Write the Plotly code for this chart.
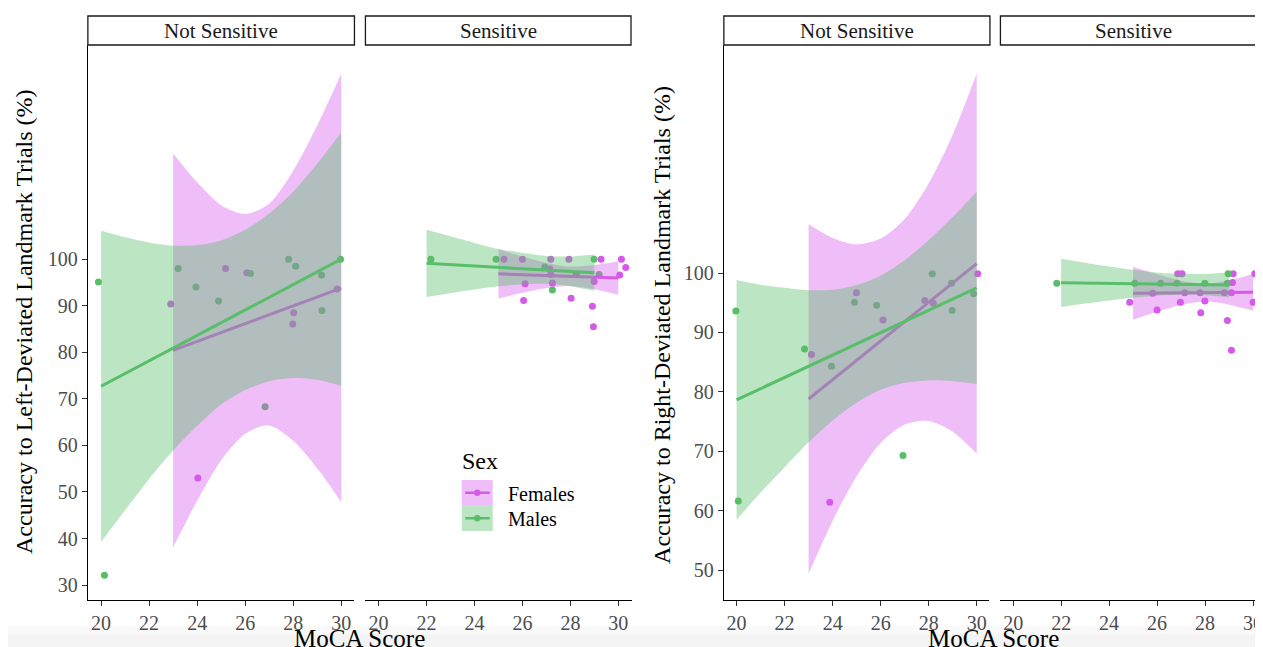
import plotly.graph_objects as go

FONT = "Liberation Serif"
FEMALE = "#D65AEA"
MALE = "#58BE69"
FEMALE_FILL = "rgba(214,90,234,0.4)"
MALE_FILL = "rgba(88,190,105,0.4)"

# ---------------- data ----------------
X_TICKS = [20, 22, 24, 26, 28, 30]
Y_TICKS_LEFT = [30, 40, 50, 60, 70, 80, 90, 100]
Y_TICKS_RIGHT = [50, 60, 70, 80, 90, 100]
FACETS = ["Not Sensitive", "Sensitive"]
SEXES = ["Females", "Males"]

# Left chart, Not Sensitive
L_NS_F_x = [22.90, 24.03, 25.18, 26.07, 27.98, 28.02, 29.83]
L_NS_F_y = [90.4, 53.0, 98.0, 97.1, 86.1, 88.5, 93.6]
L_NS_M_x = [19.89, 20.14, 23.21, 23.95, 24.89, 26.22, 26.83, 27.81, 28.10, 29.18, 29.20, 29.97]
L_NS_M_y = [95.1, 32.1, 98.0, 94.0, 91.0, 96.9, 68.3, 100.0, 98.5, 96.6, 89.0, 100.0]
FIT_L_NS_F_x = [23, 30]
FIT_L_NS_F_y = [80.4, 93.8]
FIT_L_NS_M_x = [20, 30]
FIT_L_NS_M_y = [72.7, 100.0]
BAND_L_NS_F_x = [23, 24, 25, 26, 27, 28, 29, 30]
BAND_L_NS_F_hi = [122.7, 116.5, 111.6, 109.7, 111.9, 119.0, 128.7, 139.8]
BAND_L_NS_F_lo = [38.1, 48.1, 56.8, 62.5, 64.3, 61.0, 55.1, 47.8]
BAND_L_NS_M_x = [20, 21, 22, 23, 24, 25, 26, 27, 28, 29, 30]
BAND_L_NS_M_hi = [106.1, 104.7, 103.6, 102.9, 103.0, 104.0, 106.3, 109.8, 114.5, 120.5, 127.2]
BAND_L_NS_M_lo = [39.3, 46.1, 52.8, 58.9, 64.2, 68.8, 71.9, 73.8, 74.5, 74.1, 72.8]

# Left chart, Sensitive
L_S_F_x = [25.23, 26.00, 27.18, 27.94, 29.28, 30.13, 30.31, 30.06, 27.14, 27.18,
           28.24, 26.11, 27.25, 28.99, 26.05, 28.03, 28.92, 28.96]
L_S_F_y = [100.0, 100.0, 100.0, 100.0, 100.0, 100.0, 98.2, 96.6, 97.9, 96.7,
           96.7, 94.7, 94.9, 95.2, 91.1, 91.6, 89.9, 85.5]
L_S_M_x = [22.18, 24.90, 26.93, 27.25, 28.99, 29.20]
L_S_M_y = [100.0, 100.0, 98.3, 93.4, 100.0, 96.7]
FIT_L_S_F_x = [25, 30]
FIT_L_S_F_y = [96.85, 95.96]
FIT_L_S_M_x = [22, 29]
FIT_L_S_M_y = [99.1, 97.1]
BAND_L_S_F_x = [25, 26, 27, 28, 29, 30]
BAND_L_S_F_hi = [102.15, 100.57, 99.2, 98.42, 98.74, 99.56]
BAND_L_S_F_lo = [91.55, 92.77, 93.8, 94.22, 93.54, 92.36]
BAND_L_S_M_x = [22, 23, 24, 25, 26, 27, 28, 29]
BAND_L_S_M_hi = [106.3, 104.9, 103.5, 102.2, 101.4, 100.7, 100.6, 101.0]
BAND_L_S_M_lo = [91.9, 92.7, 93.5, 94.2, 94.6, 94.7, 94.2, 93.2]

# Right chart, Not Sensitive
R_NS_F_x = [23.12, 23.88, 24.99, 26.10, 27.84, 28.19, 30.04]
R_NS_F_y = [86.3, 61.4, 96.7, 92.1, 95.4, 94.9, 99.9]
R_NS_M_x = [19.97, 20.07, 22.83, 23.95, 24.91, 25.83, 26.93, 28.15, 28.95, 28.98, 29.87]
R_NS_M_y = [93.6, 61.6, 87.2, 84.3, 95.1, 94.6, 69.3, 99.9, 98.3, 93.7, 96.5]
FIT_R_NS_F_x = [23, 30]
FIT_R_NS_F_y = [78.8, 101.6]
FIT_R_NS_M_x = [20, 30]
FIT_R_NS_M_y = [78.65, 97.5]
BAND_R_NS_F_x = [23, 24, 25, 26, 27, 28, 29, 30]
BAND_R_NS_F_hi = [108.2, 105.9, 104.8, 105.8, 109.1, 115.1, 123.3, 133.6]
BAND_R_NS_F_lo = [49.4, 58.3, 65.8, 71.4, 74.5, 75.1, 73.3, 69.6]
BAND_R_NS_M_x = [20, 21, 22, 23, 24, 25, 26, 27, 28, 29, 30]
BAND_R_NS_M_hi = [98.85, 98.04, 97.52, 97.11, 97.19, 97.98, 99.56, 102.15, 105.53, 109.42, 113.7]
BAND_R_NS_M_lo = [58.45, 63.04, 67.32, 71.51, 75.19, 78.18, 80.36, 81.55, 81.93, 81.82, 81.3]

# Right chart, Sensitive
R_S_F_x = [24.86, 25.82, 26.00, 26.86, 27.04, 26.97, 27.15, 27.79, 27.99, 27.82,
           28.80, 29.17, 29.14, 29.10, 28.93, 29.10, 30.07, 30.00, 30.12]
R_S_F_y = [95.1, 96.6, 93.8, 99.9, 99.9, 95.1, 96.7, 96.7, 95.3, 93.3,
           96.7, 99.9, 98.4, 96.7, 92.0, 87.0, 99.9, 95.1, 95.1]
R_S_M_x = [21.82, 25.07, 26.15, 26.83, 27.99, 28.93, 28.96]
R_S_M_y = [98.3, 98.3, 98.3, 98.3, 98.3, 98.3, 99.9]
FIT_R_S_F_x = [25, 30]
FIT_R_S_F_y = [96.6, 96.75]
FIT_R_S_M_x = [22, 29]
FIT_R_S_M_y = [98.35, 98.0]
BAND_R_S_F_x = [25, 26, 27, 28, 29, 30]
BAND_R_S_F_hi = [101.05, 99.78, 98.71, 98.19, 98.77, 99.85]
BAND_R_S_F_lo = [92.15, 93.48, 94.61, 95.19, 94.67, 93.65]
BAND_R_S_M_x = [22, 23, 24, 25, 26, 27, 28, 29]
BAND_R_S_M_hi = [102.4, 101.74, 101.11, 100.55, 100.1, 99.86, 99.85, 100.09]
BAND_R_S_M_lo = [94.3, 94.86, 95.39, 95.85, 96.2, 96.34, 96.25, 95.91]

Y_TITLE_LEFT = "Accuracy to Left-Deviated Landmark Trials (%)"
Y_TITLE_RIGHT = "Accuracy to Right-Deviated Landmark Trials (%)"
X_TITLE = "MoCA Score"
LEGEND_TITLE = "Sex"

# ---------------- layout helpers ----------------
# the page body has an 8px margin, so the figure is placed at (8, 8)
OFF = 8
W, H = 1263 - OFF, 647 - OFF


def pxx(p):
    return (p - OFF) / W


def pxy(p):
    return 1 - (p - OFF) / H


panels = [
    dict(xa="x", ya="y",
         pts=(L_NS_F_x, L_NS_F_y, L_NS_M_x, L_NS_M_y),
         fit=(FIT_L_NS_F_x, FIT_L_NS_F_y, FIT_L_NS_M_x, FIT_L_NS_M_y),
         band=(BAND_L_NS_F_x, BAND_L_NS_F_lo, BAND_L_NS_F_hi,
               BAND_L_NS_M_x, BAND_L_NS_M_lo, BAND_L_NS_M_hi)),
    dict(xa="x2", ya="y2",
         pts=(L_S_F_x, L_S_F_y, L_S_M_x, L_S_M_y),
         fit=(FIT_L_S_F_x, FIT_L_S_F_y, FIT_L_S_M_x, FIT_L_S_M_y),
         band=(BAND_L_S_F_x, BAND_L_S_F_lo, BAND_L_S_F_hi,
               BAND_L_S_M_x, BAND_L_S_M_lo, BAND_L_S_M_hi)),
    dict(xa="x3", ya="y3",
         pts=(R_NS_F_x, R_NS_F_y, R_NS_M_x, R_NS_M_y),
         fit=(FIT_R_NS_F_x, FIT_R_NS_F_y, FIT_R_NS_M_x, FIT_R_NS_M_y),
         band=(BAND_R_NS_F_x, BAND_R_NS_F_lo, BAND_R_NS_F_hi,
               BAND_R_NS_M_x, BAND_R_NS_M_lo, BAND_R_NS_M_hi)),
    dict(xa="x4", ya="y4",
         pts=(R_S_F_x, R_S_F_y, R_S_M_x, R_S_M_y),
         fit=(FIT_R_S_F_x, FIT_R_S_F_y, FIT_R_S_M_x, FIT_R_S_M_y),
         band=(BAND_R_S_F_x, BAND_R_S_F_lo, BAND_R_S_F_hi,
               BAND_R_S_M_x, BAND_R_S_M_lo, BAND_R_S_M_hi)),
]

fig = go.Figure()

for p in panels:
    xa, ya = p["xa"], p["ya"]
    fx, fy, mx, my = p["pts"]
    # points first (ribbons are drawn over them, as in ggplot)
    fig.add_trace(go.Scatter(x=fx, y=fy, mode="markers", xaxis=xa, yaxis=ya,
                             marker=dict(color=FEMALE, size=7), showlegend=False,
                             hoverinfo="skip"))
    fig.add_trace(go.Scatter(x=mx, y=my, mode="markers", xaxis=xa, yaxis=ya,
                             marker=dict(color=MALE, size=7), showlegend=False,
                             hoverinfo="skip"))
    bfx, bflo, bfhi, bmx, bmlo, bmhi = p["band"]
    lfx, lfy, lmx, lmy = p["fit"]
    for bx, blo, bhi, fill, lx, ly, col in (
        (bfx, bflo, bfhi, FEMALE_FILL, lfx, lfy, FEMALE),
        (bmx, bmlo, bmhi, MALE_FILL, lmx, lmy, MALE),
    ):
        fig.add_trace(go.Scatter(x=bx, y=blo, mode="lines", xaxis=xa, yaxis=ya,
                                 line=dict(width=0, shape="spline", smoothing=0.8),
                                 showlegend=False, hoverinfo="skip"))
        fig.add_trace(go.Scatter(x=bx, y=bhi, mode="lines", xaxis=xa, yaxis=ya,
                                 line=dict(width=0, shape="spline", smoothing=0.8),
                                 fill="tonexty", fillcolor=fill,
                                 showlegend=False, hoverinfo="skip"))
        fig.add_trace(go.Scatter(x=lx, y=ly, mode="lines", xaxis=xa, yaxis=ya,
                                 line=dict(color=col, width=3),
                                 showlegend=False, hoverinfo="skip"))

# ---------------- axes ----------------
ydom = [pxy(600), pxy(45)]
tickfont = dict(family=FONT, size=20, color="#4D4D4D")
common_x = dict(tickvals=X_TICKS, showline=True, linecolor="black", linewidth=1.2,
                ticks="outside", ticklen=5, tickcolor="#333333", tickwidth=1,
                tickfont=tickfont, showgrid=False, zeroline=False, fixedrange=True,
                ticklabeloverflow="allow")
common_y_vis = dict(showline=True, linecolor="black", linewidth=1.2,
                    ticks="outside", ticklen=5, tickcolor="#333333", tickwidth=1,
                    tickfont=tickfont, showgrid=False, zeroline=False, fixedrange=True)
common_y_hid = dict(showline=False, showticklabels=False, ticks="", showgrid=False,
                    zeroline=False, fixedrange=True)

LEFT_YR = [26.8, 146.0]
RIGHT_YR = [44.95, 138.4]

fig.update_layout(
    xaxis=dict(domain=[pxx(88), pxx(355)], range=[19.45, 30.55], anchor="y", **common_x),
    xaxis2=dict(domain=[pxx(366), pxx(632.5)], range=[19.45, 30.55], anchor="y2", **common_x),
    xaxis3=dict(domain=[pxx(725), pxx(991)], range=[19.47, 30.53], anchor="y3", **common_x),
    xaxis4=dict(domain=[pxx(1002), 1.0], range=[19.47, 30.33], anchor="y4", **common_x),
    yaxis=dict(domain=ydom, range=LEFT_YR, anchor="x", tickvals=Y_TICKS_LEFT, **common_y_vis),
    yaxis2=dict(domain=ydom, range=LEFT_YR, anchor="x2", **common_y_hid),
    yaxis3=dict(domain=ydom, range=RIGHT_YR, anchor="x3", tickvals=Y_TICKS_RIGHT, **common_y_vis),
    yaxis4=dict(domain=ydom, range=RIGHT_YR, anchor="x4", **common_y_hid),
)

# ---------------- strips, titles, legend ----------------
shapes = []
annotations = []

# subtle grey band at the very bottom of the screenshot
shapes.append(dict(type="rect", xref="paper", yref="paper", x0=0, x1=1, y0=0, y1=pxy(626),
                   fillcolor="rgba(0,0,0,0.02)", line=dict(width=0), layer="below"))
shapes.append(dict(type="rect", xref="paper", yref="paper", x0=0, x1=1, y0=0, y1=pxy(634),
                   fillcolor="rgba(0,0,0,0.025)", line=dict(width=0), layer="below"))

strips = [(88, 355, FACETS[0], 221), (366, 632, FACETS[1], 499),
          (725, 991.5, FACETS[0], 858), (1002, 1272, FACETS[1], 1135)]
for x0, x1, label, cx in strips:
    shapes.append(dict(type="rect", xref="paper", yref="paper",
                       x0=pxx(x0), x1=pxx(x1), y0=pxy(45), y1=pxy(16),
                       line=dict(color="#1A1A1A", width=1.3), fillcolor="white"))
    annotations.append(dict(text=label, x=pxx(cx), y=pxy(31), xref="paper", yref="paper",
                            showarrow=False, xanchor="center", yanchor="middle",
                            font=dict(family=FONT, size=21, color="#1A1A1A")))

# axis titles
for cx in (360, 995):
    annotations.append(dict(text=X_TITLE, x=pxx(cx), y=pxy(638), xref="paper", yref="paper",
                            showarrow=False, xanchor="center", yanchor="middle",
                            font=dict(family=FONT, size=25, color="black")))
annotations.append(dict(text=Y_TITLE_LEFT, x=pxx(24), y=pxy(321), xref="paper", yref="paper",
                        showarrow=False, textangle=-90, xanchor="center", yanchor="middle",
                        font=dict(family=FONT, size=24, color="black")))
annotations.append(dict(text=Y_TITLE_RIGHT, x=pxx(663), y=pxy(325), xref="paper", yref="paper",
                        showarrow=False, textangle=-90, xanchor="center", yanchor="middle",
                        font=dict(family=FONT, size=24, color="black")))

# legend (manual, ggplot style)
annotations.append(dict(text=LEGEND_TITLE, x=pxx(461), y=pxy(461), xref="paper", yref="paper",
                        showarrow=False, xanchor="left", yanchor="middle",
                        font=dict(family=FONT, size=24, color="black")))
for i, (name, fill, col) in enumerate(((SEXES[0], FEMALE_FILL, FEMALE),
                                       (SEXES[1], MALE_FILL, MALE))):
    top = 480 + i * 25.5
    cy = top + 12.75
    shapes.append(dict(type="rect", xref="paper", yref="paper",
                       x0=pxx(462.5), x1=pxx(493.5), y0=pxy(top + 25.5), y1=pxy(top),
                       fillcolor=fill, line=dict(width=0)))
    shapes.append(dict(type="line", xref="paper", yref="paper",
                       x0=pxx(466), x1=pxx(490.5), y0=pxy(cy), y1=pxy(cy),
                       line=dict(color=col, width=2.5)))
    shapes.append(dict(type="circle", xref="paper", yref="paper",
                       x0=pxx(474.8), x1=pxx(481.2), y0=pxy(cy + 3.2), y1=pxy(cy - 3.2),
                       fillcolor=col, line=dict(width=0)))
    annotations.append(dict(text=name, x=pxx(507), y=pxy(cy + 1), xref="paper", yref="paper",
                            showarrow=False, xanchor="left", yanchor="middle",
                            font=dict(family=FONT, size=20, color="black")))

fig.update_layout(
    width=W, height=H, autosize=False,
    margin=dict(l=0, r=0, t=0, b=0),
    paper_bgcolor="white", plot_bgcolor="white",
    showlegend=False,
    shapes=shapes, annotations=annotations,
    font=dict(family=FONT),
)

fig.write_html("out.html", config={"displayModeBar": False})
